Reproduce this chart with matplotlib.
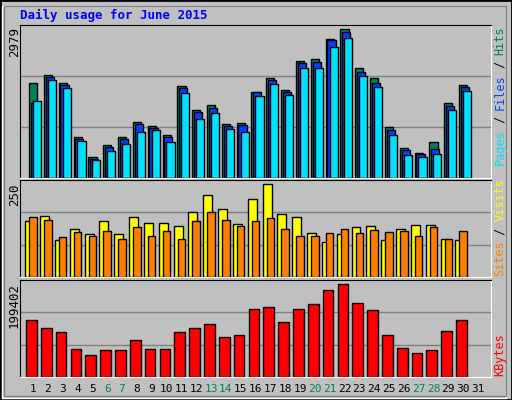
import numpy as np
import matplotlib.pyplot as plt
from matplotlib.patches import Rectangle

days = np.arange(1, 31)
hits = [1904, 2067, 1909, 831, 426, 669, 831, 1115, 1034, 872, 1844, 1358, 1459, 1074, 1095, 1723, 2007, 1763, 2351, 2392, 2797, 2979, 2209, 2007, 1014, 608, 507, 730, 1499, 1864]
files = [1499, 2027, 1864, 791, 385, 628, 791, 1074, 993, 831, 1804, 1317, 1398, 1034, 1054, 1723, 1966, 1723, 2311, 2331, 2776, 2938, 2128, 1904, 953, 567, 486, 588, 1439, 1824]
pages = [1540, 1966, 1804, 750, 365, 547, 689, 932, 953, 730, 1702, 1175, 1297, 973, 932, 1642, 1885, 1662, 2209, 2209, 2635, 2817, 2047, 1824, 872, 466, 426, 486, 1358, 1742]
visits = [149, 163, 98, 130, 114, 149, 114, 160, 144, 144, 136, 174, 221, 182, 141, 209, 250, 168, 160, 117, 95, 114, 134, 136, 100, 128, 139, 139, 103, 98]
sites = [160, 152, 106, 120, 109, 123, 103, 133, 111, 123, 103, 149, 174, 152, 136, 149, 157, 130, 111, 111, 117, 130, 117, 125, 120, 123, 111, 133, 103, 123]
kbytes = [121789, 104386, 95685, 60879, 47827, 58704, 58704, 78282, 60879, 60879, 95685, 104386, 113088, 84808, 89159, 145718, 150069, 117438, 145718, 156595, 187051, 199402, 158770, 143543, 89159, 63054, 52177, 58704, 97860, 121789]
weekend = [6, 7, 13, 14, 20, 21, 27, 28]

BG = '#c0c0c0'
W, H = 512, 400
fig = plt.figure(figsize=(W / 100, H / 100), dpi=100, facecolor=BG)

# outer frame
fig.patches.append(Rectangle((0, 0), 1, 1, transform=fig.transFigure, fill=False, edgecolor='black', lw=2))
fig.patches.append(Rectangle((2 / W, 2 / H), (W - 8) / W, (H - 8) / H, transform=fig.transFigure,
                             fill=False, edgecolor='white', lw=1))
fig.patches.append(Rectangle((4 / W, 4 / H), (W - 10) / W, (H - 10) / H, transform=fig.transFigure,
                             fill=False, edgecolor='#808080', lw=1))


def panel(top, bottom):
    ax = fig.add_axes([20 / W, 1 - bottom / H, (491 - 20) / W, (bottom - top) / H])
    ax.set_facecolor(BG)
    ax.set_xlim(0.12, 31.88)
    ax.set_xticks([])
    ax.set_yticks([])
    for s in ax.spines.values():
        s.set_color('black')
    ax.spines['bottom'].set_color('white')
    ax.spines['right'].set_color('white')
    return ax


def grid(ax, top):
    ax.set_ylim(0, top)
    for f in (1 / 3, 2 / 3):
        ax.axhline(top * f, color='#808080', lw=1, zorder=0)


mono = 'DejaVu Sans Mono'

# top panel
ax1 = panel(25, 178)
grid(ax1, 2979 * 1.03)
ax1.bar(days - 0.27, hits, width=0.55, color='#00805f', edgecolor='black', lw=1, align='edge')
ax1.bar(days - 0.15, files, width=0.55, color='#0040ff', edgecolor='black', lw=1, align='edge')
ax1.bar(days - 0.01, pages, width=0.55, color='#00e0ff', edgecolor='black', lw=1, align='edge')

# middle panel
ax2 = panel(180, 277)
grid(ax2, 250 * 1.04)
ax2.bar(days - 0.52, visits, width=0.6, color='#ffff00', edgecolor='black', lw=1, align='edge')
ax2.bar(days - 0.25, sites, width=0.5, color='#ff8000', edgecolor='black', lw=1, align='edge')

# bottom panel
ax3 = panel(280, 377)
grid(ax3, 199402 * 1.04)
ax3.bar(days - 0.47, kbytes, width=0.72, color='#ff0000', edgecolor='black', lw=1, align='edge')

# left max labels
for y, t in [(27, '2979'), (183, '250'), (283, '199402')]:
    fig.text(8 / W, 1 - y / H, t, rotation=90, va='top', ha='left', family=mono, fontsize=9)

# day labels
for d in range(1, 32):
    x = 20 + (d - 0.12) * (471 / 31.76)
    fig.text(x / W, 1 - 389 / H, str(d), ha='center', va='center', family=mono, fontsize=8,
             color='#00805f' if d in weekend else 'black')

# right legends (rotated, bottom to top)
CH = 6.9  # pixels per character


def vlabel(y_bottom, parts):
    y = y_bottom
    for txt, col in parts:
        fig.text(500 / W, 1 - y / H, txt, rotation=90, ha='center', va='bottom', family=mono,
                 fontsize=8.5, color=col)
        y -= len(txt) * CH


vlabel(165, [('Pages', '#00e0ff'), (' / ', 'black'), ('Files', '#0040ff'), (' / ', 'black'), ('Hits', '#00805f')])
vlabel(276, [('Sites', '#ff8000'), (' / ', 'black'), ('Visits', '#ffff00')])
vlabel(376, [('KBytes', '#ff0000')])

fig.text(20 / W, 1 - 15 / H, 'Daily usage for June 2015', color='#0000ff', family=mono,
         fontweight='bold', fontsize=9, va='center', ha='left')

fig.savefig('out.png', dpi=100, facecolor=BG)
